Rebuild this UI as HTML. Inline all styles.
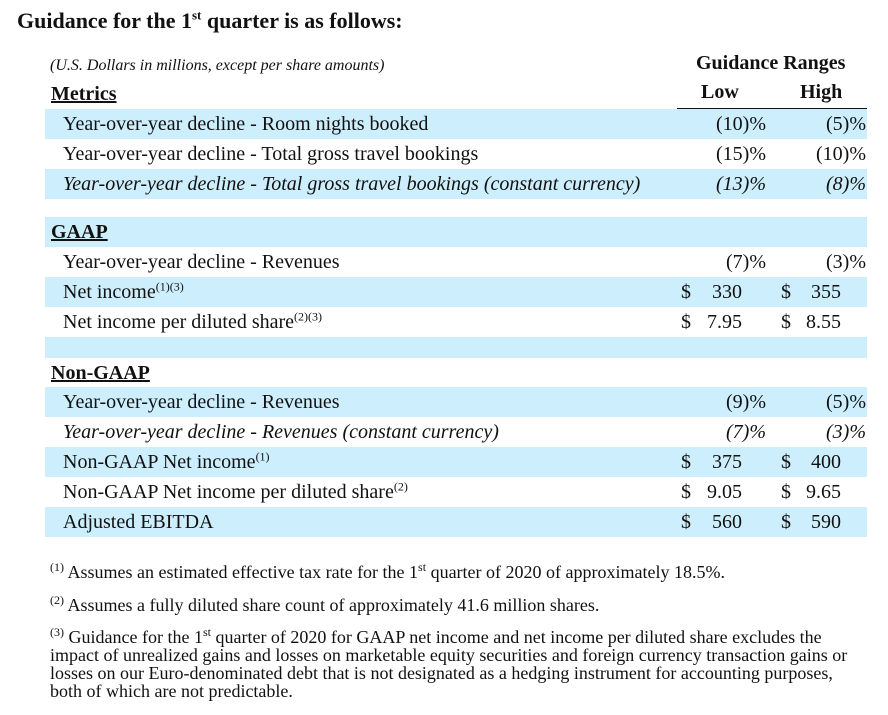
<!DOCTYPE html>
<html><head><meta charset="utf-8"><style>
body{margin:0;width:888px;height:715px;background:#fff;font-family:"Liberation Serif",serif;color:#111;position:relative;overflow:hidden}
.a{position:absolute;white-space:nowrap}
.row{position:absolute;left:45px;width:822px;height:30px;line-height:30px;font-size:20px}
.blue{background:#cdeefc}
.lab{position:absolute;left:18px}
.lo{position:absolute;right:101px}
.hi{position:absolute;right:1px}
.d1{position:absolute;left:636px}
.d2{position:absolute;left:736px}
.v1{position:absolute;right:125px}
.v2{position:absolute;right:26px}
.hd{position:absolute;left:6px;font-weight:bold;text-decoration:underline;font-size:20px}
sup{font-size:12px;line-height:0}
.fn{position:absolute;left:50px;font-size:18px;line-height:18px;white-space:nowrap}
.fn sup{font-size:12px}
</style></head><body>
<div class="a" style="left:17px;top:8px;font-size:22px;font-weight:bold">Guidance for the 1<sup style="font-size:13px">st</sup> quarter is as follows:</div>
<div class="a" style="left:50px;top:57px;font-size:16px;font-style:italic">(U.S. Dollars in millions, except per share amounts)</div>
<div class="a" style="left:696px;top:52px;font-size:20px;font-weight:bold">Guidance Ranges</div>
<div class="a" style="left:701px;top:81px;font-size:20px;font-weight:bold">Low</div>
<div class="a" style="left:800px;top:81px;font-size:20px;font-weight:bold">High</div>
<div class="a" style="left:677px;top:108px;width:190px;height:2px;background:#111"></div>
<div class="row" style="top:79px"><span class="hd">Metrics</span></div>

<div class="row blue" style="top:109px"><span class="lab">Year-over-year decline - Room nights booked</span><span class="lo">(10)%</span><span class="hi">(5)%</span></div>
<div class="row" style="top:139px"><span class="lab">Year-over-year decline - Total gross travel bookings</span><span class="lo">(15)%</span><span class="hi">(10)%</span></div>
<div class="row blue" style="top:169px;font-style:italic"><span class="lab">Year-over-year decline - Total gross travel bookings (constant currency)</span><span class="lo">(13)%</span><span class="hi">(8)%</span></div>

<div class="row blue" style="top:217px"><span class="hd">GAAP</span></div>
<div class="row" style="top:247px"><span class="lab">Year-over-year decline - Revenues</span><span class="lo">(7)%</span><span class="hi">(3)%</span></div>
<div class="row blue" style="top:277px"><span class="lab">Net income<sup>(1)(3)</sup></span><span class="d1">$</span><span class="v1">330</span><span class="d2">$</span><span class="v2">355</span></div>
<div class="row" style="top:307px"><span class="lab">Net income per diluted share<sup>(2)(3)</sup></span><span class="d1">$</span><span class="v1">7.95</span><span class="d2">$</span><span class="v2">8.55</span></div>
<div class="row blue" style="top:337px;height:21px"></div>

<div class="row" style="top:358px"><span class="hd">Non-GAAP</span></div>
<div class="row blue" style="top:387px"><span class="lab">Year-over-year decline - Revenues</span><span class="lo">(9)%</span><span class="hi">(5)%</span></div>
<div class="row" style="top:417px;font-style:italic"><span class="lab">Year-over-year decline - Revenues (constant currency)</span><span class="lo">(7)%</span><span class="hi">(3)%</span></div>
<div class="row blue" style="top:447px"><span class="lab">Non-GAAP Net income<sup>(1)</sup></span><span class="d1">$</span><span class="v1">375</span><span class="d2">$</span><span class="v2">400</span></div>
<div class="row" style="top:477px"><span class="lab">Non-GAAP Net income per diluted share<sup>(2)</sup></span><span class="d1">$</span><span class="v1">9.05</span><span class="d2">$</span><span class="v2">9.65</span></div>
<div class="row blue" style="top:507px"><span class="lab">Adjusted EBITDA</span><span class="d1">$</span><span class="v1">560</span><span class="d2">$</span><span class="v2">590</span></div>

<div class="fn" style="top:563px"><sup>(1)</sup> Assumes an estimated effective tax rate for the 1<sup>st</sup> quarter of 2020 of approximately 18.5%.</div>
<div class="fn" style="top:596px"><sup>(2)</sup> Assumes a fully diluted share count of approximately 41.6 million shares.</div>
<div class="fn" style="top:628px"><sup>(3)</sup> Guidance for the 1<sup>st</sup> quarter of 2020 for GAAP net income and net income per diluted share excludes the<br>impact of unrealized gains and losses on marketable equity securities and foreign currency transaction gains or<br>losses on our Euro-denominated debt that is not designated as a hedging instrument for accounting purposes,<br>both of which are not predictable.</div>
</body></html>
